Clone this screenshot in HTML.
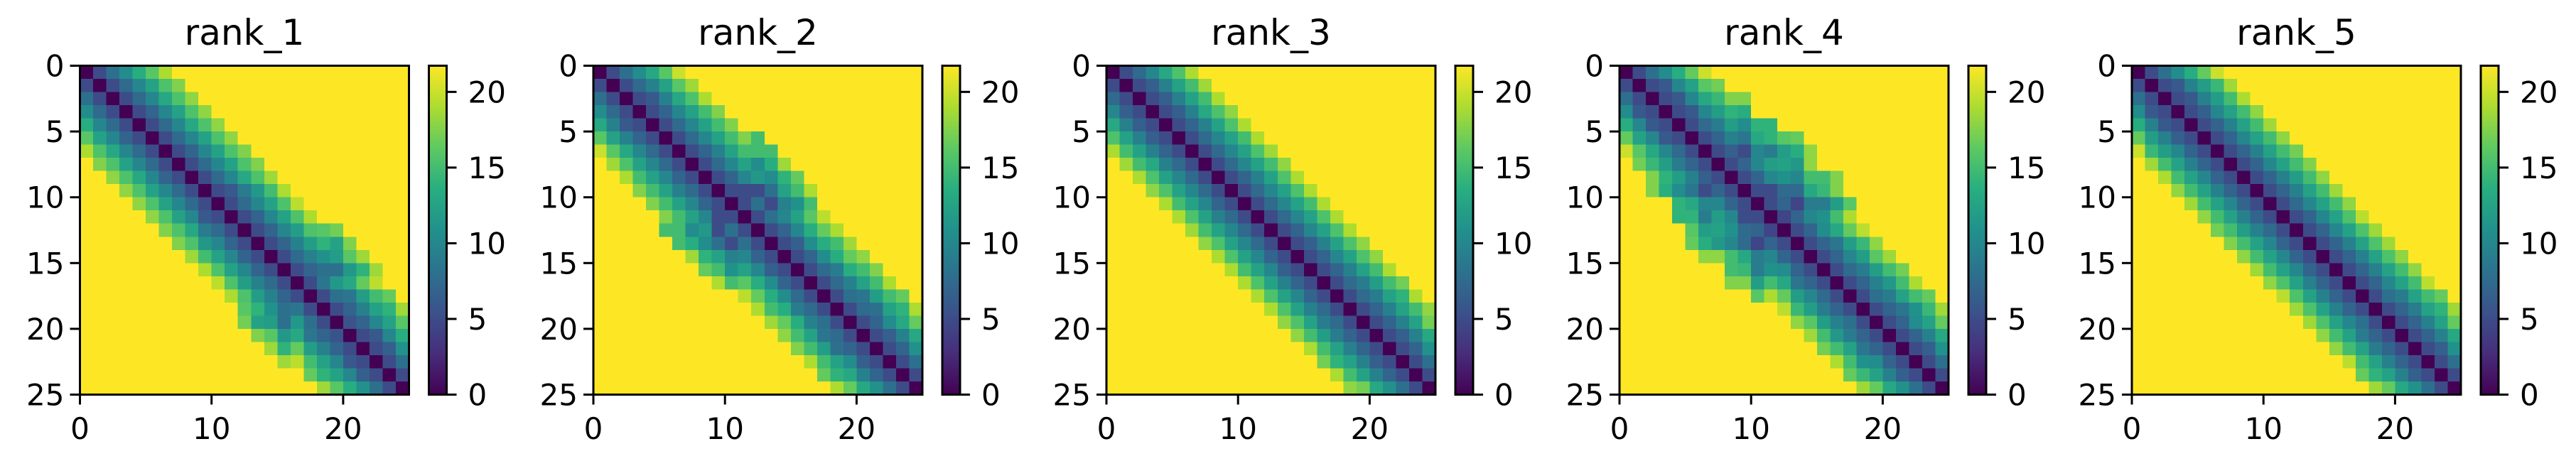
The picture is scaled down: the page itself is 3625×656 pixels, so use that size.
<!DOCTYPE html>
<html><head><meta charset="utf-8"><style>
html,body{margin:0;padding:0;background:#fff;}
svg{display:block;font-family:"DejaVu Sans","Liberation Sans",sans-serif;}
</style></head><body>
<svg id="fig" width="3625" height="656" viewBox="0 0 3625 656" xmlns="http://www.w3.org/2000/svg"></svg>
<script>
// ---- data ----
const panelTitles = ["rank_1","rank_2","rank_3","rank_4","rank_5"];
const nRes = 25;
const vmax = 21.73;
const yTicks = [0,5,10,15,20,25];
const xTicks = [0,10,20];
const cbTicks = [0,5,10,15,20];
// upper-triangle band values per row: row i, values at j=i+1, i+2, ... (beyond -> clipped at vmax)
const bands1 = [
[5,8,10.5,13.5,16,19],[5,7.5,10,12.5,15.5,17.5],[5,7.5,10,13,15.5,18],[5,7,10,12.5,15.5,18],
[5,7.5,10,13,15.5,18],[5,7.5,10,12.5,15.5,18],[5,7,10,12.5,15.5,17.5],[5,7.5,10,12.5,15.5,17.5],
[5,7.5,10,13,15.5,18.5],[5,6,9,11.5,15,19],[5,7.5,10,12.5,15.5,19.5],[5,7,10,12.5,15.5,19],
[5,7,10,12,15.5,16,17],[5,7,9.5,12,14,12.5,17.5],[5,7.5,9.5,11,12,16,18.5],[5,7,8,8,11.5,14,18.5],
[5,8.5,11.5,13,16.5,19.5],[5,8,8.5,12,15,16.5],[5,7,9.5,12.5,14,18.5],[5.5,7,10,12.5,16],
[5,6,10,13.5],[5,6.5,11],[5,8],[5]];
const bands2 = [
[5,8,10.5,13,16,20],[5,7.5,9.5,12.5,16,18.5],[5,6,9.5,13,15.5,19],[5,7,10,12.5,15,17.5],
[5,7.5,10,12.5,15,17.5],[5,7.5,10,12.5,15,17.5,15],[5,7,9.5,12.5,15,15,15],[5,7.5,10,12.5,10.5,13.5,18.5],
[5,7,10,11.5,10.5,14,16.5],[5,5,5,8,12.5,15,19],[5,8,5,9.5,11,15],[5,8,10,12.5,16,19.5],
[5,7,10,13.5,16.5,19],[5,6.5,10.5,13.5,15,18.5],[5,7,10.5,13.5,16.5,18],[5,7.5,9,13.5,15,17.5],
[5,7.5,9.5,12.5,15,19],[5,8,8.5,12,15,16.5],[5,7.5,8,12.5,14,19],[5,7,10.5,13,16.5],
[5,6.5,9.5,13],[5,7,11],[5,8],[5]];
const bands3 = [
[5,7.5,10,13,15.5,19],[5,6.5,9.5,12.5,15,18.5],[5,6.5,9.5,12.5,15,19],[5,6.5,9.5,13,15.5,18],
[5,7,9.5,12.5,15.5,19],[5,7.5,10,12.5,15,19],[5,7.5,10,12.5,15.5,18.5],[5,7.5,10,12.5,15,18],
[5,7,9.5,12.5,15.5,19],[5,7.5,10,12.5,15.5,19],[5,7.5,10,12.5,15,19],[5,7.5,10,12.5,15.5,19],
[5,7,10,12.5,15.5,19],[5,6.5,9.5,12.5,15.5,18],[5,7,10,12.5,15.5,18],[5,7,9.5,12.5,15,19],
[5,7.5,9,12,15,17],[5,7.5,9,12.5,14,19],[5,7,9.5,12.5,15,18],[5,7,9.5,12.5,17],
[5,6.5,9.5,13],[5,7,11],[5,8],[5]];
const bands4 = [
[5,8,10.5,13.5,16.5,20],[5,6,10,12.5,16,17],[5,6,10,13,14.5,17.5,17.5],[5,6,10,12,14,13.5],
[5,7.5,9,12,10.5,14,14],[5,7,9.5,8.5,13,14,16,16.5],[5,6.5,5,10,9,12,13.5,18],[5,7,10,12,12.5,11.5,18],
[5,7,10,11,10,15,15,17.5],[5,5,7.5,7.5,13,14.5,17.5],[5,7,4.5,9,9,12,16],[4.5,7,10,11,15,19],
[5,7,10.5,13,16.5,19.5],[5,7,8.5,12,14.5,18],[5,7,10,12,16,18.5],[5,7.5,9,12,15,17],
[5,7,9.5,11.5,15,19],[5,8,9,12.5,15,16.5],[5,7,8.5,11,14.5,18.5],[5,7,10.5,12.5,16.5],
[5,7,9.5,13],[5,6.5,11],[5,8],[5]];
const bands5 = [
[5,8,10.5,13.5,16.5,20],[5,6,9.5,12,14.5,18.5],[5,6,9.5,12,15,19],[5,6.5,10,12.5,15,18],
[5,7,9.5,12.5,15,18.5],[5,7,10,12.5,15,18],[5,7,9.5,12.5,15,17],[5,7,10,12.5,15,17.5],
[5,7,9.5,12,15,18],[5,7,9.5,12.5,15,18.5],[5,7.5,10,12.5,15,18],[5,7,10,12.5,15.5,19.5],
[5,7,10,12.5,15.5,18.5],[5,7,9.5,12.5,15.5,18.5],[5,7,9.5,12.5,15.5,18],[5,7,9.5,12.5,15,18],
[5,7,10,12.5,15,19.5],[5,8,9,12.5,15,16.5],[5,7,9,12.5,14,18.5],[5,7,9.5,12.5,16.5],
[5,7,9.5,13],[5,6.5,11],[5,8],[5]];
const allBands = [bands1,bands2,bands3,bands4,bands5];

// ---- style ----
const NS = "http://www.w3.org/2000/svg";
const svg = document.getElementById("fig");
const vir = ["#440154","#472d7b","#3b528b","#2c728e","#21918c","#28ae80","#5ec962","#addc30","#fde725"];
function hex(c){return [parseInt(c.substr(1,2),16),parseInt(c.substr(3,2),16),parseInt(c.substr(5,2),16)];}
function cmap(v){
  let t=Math.max(0,Math.min(1,v/vmax))*(vir.length-1);
  let i=Math.min(vir.length-2,Math.floor(t)), f=t-i;
  const a=hex(vir[i]), b=hex(vir[i+1]);
  return "rgb("+a.map((x,k)=>Math.round(x+(b[k]-x)*f)).join(",")+")";
}
function mk(tag, attrs, parent){
  const e=document.createElementNS(NS,tag);
  for(const k in attrs) e.setAttribute(k,attrs[k]);
  (parent||svg).appendChild(e);
  return e;
}
const defs = mk("defs",{});
const grad = mk("linearGradient",{id:"cbg",x1:"0",y1:"1",x2:"0",y2:"0"},defs);
vir.forEach((c,i)=>mk("stop",{offset:(i/(vir.length-1)),"stop-color":c},grad));

const axTop=92.5, axSize=463, cbGap=491, cbW=25;
const lefts=[112.5,835,1557,2279,3000];

function matrixFrom(b){
  const M=[];
  for(let i=0;i<nRes;i++){M.push(new Array(nRes).fill(vmax));M[i][i]=0;}
  for(let i=0;i<b.length;i++) for(let d=0;d<b[i].length;d++){
    const j=i+1+d; if(j<nRes){M[i][j]=b[i][d];M[j][i]=b[i][d];}
  }
  return M;
}

panelTitles.forEach((title,p)=>{
  const L=lefts[p];
  const xs=v=>L+v/nRes*axSize;
  const ys=v=>axTop+v/nRes*axSize;
  const g=mk("g",{});
  
  
  const M=matrixFrom(allBands[p]);
  const hm=mk("g",{"shape-rendering":"crispEdges"},g);
  
  
  for(let i=0;i<nRes;i++) for(let j=0;j<nRes;j++){
    const r=mk("rect",{x:xs(j),y:ys(i),width:xs(j+1)-xs(j)+0.6,height:ys(i+1)-ys(i)+0.6,fill:cmap(M[i][j])},hm);
    
    
  }
  const fr=mk("rect",{x:L,y:axTop,width:axSize,height:axSize,fill:"none",stroke:"#000","stroke-width":3},g);
  
  
  const t=mk("text",{x:L+axSize/2,y:63,"font-size":50,"text-anchor":"middle"},g);
  t.textContent=title;
  
  
  yTicks.forEach(v=>{
    mk("line",{x1:L-14,x2:L,y1:ys(v),y2:ys(v),stroke:"#000","stroke-width":3},g);
    const tl=mk("text",{x:L-22,y:ys(v)+15,"font-size":42,"text-anchor":"end"},g);
    tl.textContent=v;
    
    
  });
  xTicks.forEach(v=>{
    mk("line",{x1:xs(v),x2:xs(v),y1:axTop+axSize,y2:axTop+axSize+14,stroke:"#000","stroke-width":3},g);
    const tl=mk("text",{x:xs(v),y:618,"font-size":42,"text-anchor":"middle"},g);
    tl.textContent=v;
    
    
  });
  const cx=L+cbGap;
  const cb=mk("rect",{x:cx,y:axTop,width:cbW,height:axSize,fill:"url(#cbg)",stroke:"#000","stroke-width":3},g);
  
  
  const cys=v=>axTop+axSize-v/vmax*axSize;
  cbTicks.forEach(v=>{
    mk("line",{x1:cx+cbW,x2:cx+cbW+14,y1:cys(v),y2:cys(v),stroke:"#000","stroke-width":3},g);
    const tl=mk("text",{x:cx+cbW+30,y:cys(v)+15,"font-size":42},g);
    tl.textContent=v;
    
    
  });
});
</script>
</body></html>
